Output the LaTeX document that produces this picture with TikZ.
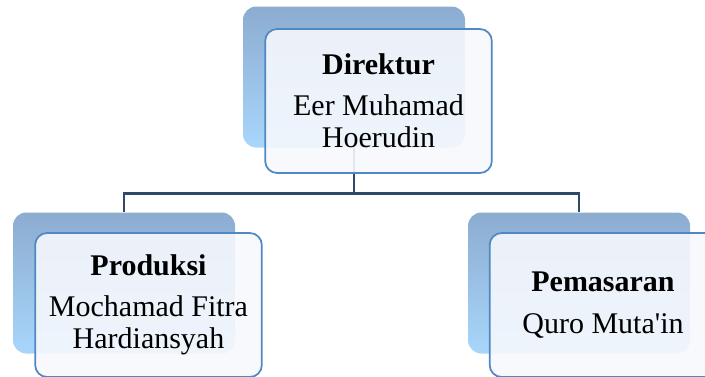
\documentclass[tikz,border=0pt]{standalone}
\usepackage{fontspec}
\setmainfont{Liberation Serif}
\usetikzlibrary{positioning}
\definecolor{backtop}{HTML}{8CACD0}
\definecolor{backmid}{HTML}{9CC5EE}
\definecolor{backbot}{HTML}{A8D6FB}
\definecolor{frontfill}{HTML}{F6F8FD}
\definecolor{frontline}{HTML}{4F88C2}
\definecolor{connline}{HTML}{2E4A68}
\tikzset{
x=0.75pt, y=-0.75pt, % one unit is one pixel of the reference
backbox/.style={rounded corners=10pt, top color=backtop, middle color=backmid, bottom color=backbot, minimum width=166.5pt, minimum height=105.75pt, inner sep=0pt}, % blue box behind
frontbox/.style={rounded corners=9pt, draw=frontline, line width=1.3pt, fill=frontfill, fill opacity=0.9, text opacity=1, minimum width=170pt, minimum height=108pt, align=center, font=\fontsize{22.5}{24}\selectfont}, % white box with the names
conn/.style={draw=connline, line width=2.2pt}, % lines between the boxes
}
\begin{document}
\begin{tikzpicture}
\useasboundingbox (0,0) rectangle (705,376);
\clip (0,0) rectangle (705,376);

\node[backbox] at (354, 77) (dirb) {};
\node[backbox] at (124, 283) (prodb) {};
\node[backbox] at (579, 283) (pemb) {};

\draw[conn] (dirb.south) -- ++(0,46) coordinate (bus);
\draw[conn] (bus) -| (prodb.north);
\draw[conn] (bus) -| (pemb.north);

\node[frontbox] at (378.5, 101) (dir) {\textbf{Direktur}\\[7pt]Eer Muhamad\\Hoerudin};
\node[frontbox] at (148.5, 305) (prod) {\textbf{Produksi}\\[7pt]Mochamad Fitra\\Hardiansyah};
\node[frontbox] at (603, 305) (pem) {\textbf{Pemasaran}\\[7pt]Quro Muta\textquotesingle in};

\end{tikzpicture}
\end{document}
